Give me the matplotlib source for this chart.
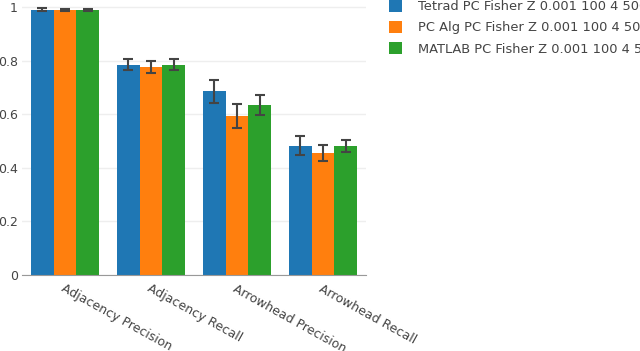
import numpy as np
import matplotlib
matplotlib.use('Agg')
import matplotlib.pyplot as plt

plt.rcParams['font.family'] = ['DejaVu Sans']

categories = ['Adjacency Precision', 'Adjacency Recall', 'Arrowhead Precision', 'Arrowhead Recall']
series = ['Tetrad PC Fisher Z 0.001 100 4 500', 'PC Alg PC Fisher Z 0.001 100 4 500',
          'MATLAB PC Fisher Z 0.001 100 4 500']
tetrad = [0.99, 0.785, 0.685, 0.483]
tetrad_err = [0.005, 0.022, 0.044, 0.037]
pcalg = [0.99, 0.775, 0.593, 0.455]
pcalg_err = [0.004, 0.022, 0.045, 0.030]
matlab = [0.99, 0.785, 0.634, 0.481]
matlab_err = [0.004, 0.022, 0.037, 0.021]
colors = ['#1f77b4', '#ff7f0e', '#2ca02c']

fig = plt.figure(figsize=(6.4, 3.51), dpi=100)
ax = fig.add_axes([22/640, 1-275/351, 344/640, 275/351])

x = np.arange(len(categories))
w = 0.8/3
for i, (vals, errs) in enumerate([(tetrad, tetrad_err), (pcalg, pcalg_err), (matlab, matlab_err)]):
    ax.bar(x - 0.4 + w*(i+0.5), vals, w, color=colors[i], label=series[i],
           yerr=errs, error_kw=dict(ecolor='#444444', elinewidth=1.5, capsize=3.5, capthick=1.5))

ax.set_xlim(-0.5, 3.5)
ax.set_ylim(0, 1.026)
ax.set_yticks([0, 0.2, 0.4, 0.6, 0.8, 1])
ax.set_yticklabels(['0', '0.2', '0.4', '0.6', '0.8', '1'])
ax.yaxis.grid(True, color='#eeeeee', linewidth=1)
ax.set_axisbelow(True)
for s in ['top', 'right', 'left']:
    ax.spines[s].set_visible(False)
ax.spines['bottom'].set_color('#999999')
ax.tick_params(axis='y', length=0, labelsize=9, labelcolor='#444444', pad=3)
ax.tick_params(axis='x', length=0, labelsize=9, labelcolor='#444444', pad=5)
ax.set_xticks(x)
ax.set_xticklabels(categories, rotation=-29, ha='left', va='top', rotation_mode='anchor')

ax.legend(loc='upper left', bbox_to_anchor=(389/640, 1.0), bbox_transform=fig.transFigure,
          frameon=False, fontsize=9.4, handlelength=1.0, handleheight=1.0, handletextpad=1.2,
          labelspacing=0.6, labelcolor='#444444', borderaxespad=0.0, borderpad=0.0)

fig.savefig('out.png', dpi=100)
